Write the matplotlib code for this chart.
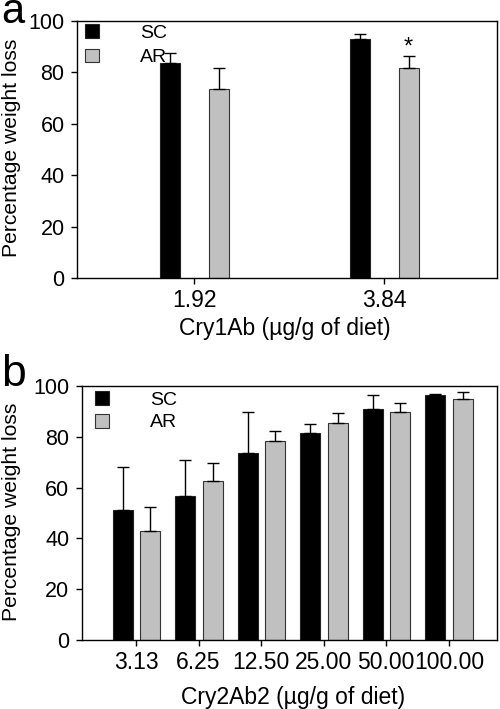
import matplotlib as mpl
mpl.use('Agg')
import matplotlib.pyplot as plt
import numpy as np

plt.rcParams['font.family'] = ['Liberation Sans', 'DejaVu Sans']

# panel a: Cry1Ab
a_doses = ["1.92", "3.84"]
a_sc = [83.5, 93.1]
a_sc_err = [3.9, 2.0]
a_ar = [73.6, 81.8]
a_ar_err = [8.1, 4.7]

# panel b: Cry2Ab2
b_doses = ["3.13", "6.25", "12.50", "25.00", "50.00", "100.00"]
b_sc = [51.0, 56.6, 73.6, 81.5, 90.9, 96.3]
b_sc_err = [17.0, 14.3, 16.3, 3.4, 5.4, 0.6]
b_ar = [42.9, 62.7, 78.2, 85.6, 89.9, 94.8]
b_ar_err = [9.3, 6.9, 4.0, 3.6, 3.5, 2.7]

black = '#000000'
gray = '#c0c0c0'

fig = plt.figure(figsize=(5, 7.09), dpi=100)
axa = fig.add_axes([0.154, 0.6079, 0.840, 0.3625])
axb = fig.add_axes([0.164, 0.0973, 0.830, 0.3583])


def draw(ax, doses, sc, sc_err, ar, ar_err, w, off_sc, off_ar, xlim):
    x = np.arange(len(doses))
    ekw = dict(ecolor='black', elinewidth=1, capsize=4, capthick=1)
    ax.bar(x + off_sc, sc, w, color=black, edgecolor='#222222', linewidth=0.8,
           yerr=[np.zeros(len(sc)), sc_err], error_kw=ekw, label='SC')
    ax.bar(x + off_ar, ar, w, color=gray, edgecolor='#333333', linewidth=0.8,
           yerr=[np.zeros(len(ar)), ar_err], error_kw=ekw, label='AR')
    ax.set_xlim(*xlim)
    ax.set_ylim(0, 100)
    ax.set_yticks(range(0, 101, 20))
    ax.set_xticks(x)
    ax.set_xticklabels(doses)
    ax.tick_params(axis='x', direction='out', length=4, width=1, labelsize=16.5, pad=4)
    ax.tick_params(axis='y', direction='out', length=4, width=1, labelsize=15.5, pad=5)
    for s in ax.spines.values():
        s.set_linewidth(1)
    return x


xa = draw(axa, a_doses, a_sc, a_sc_err, a_ar, a_ar_err, 0.105, -0.126, 0.13, (-0.616, 1.595))
xb = draw(axb, b_doses, b_sc, b_sc_err, b_ar, b_ar_err, 0.32, -0.215, 0.225, (-0.863, 5.77))

# significance mark
axa.text(xa[1] + 0.13, a_ar[1] + a_ar_err[1] - 1.0, '*', ha='center', va='bottom', fontsize=17)

fig.text(0.004, 1 - 148 / 709, 'Percentage weight loss', rotation=90,
         ha='left', va='center', fontsize=15.2)
fig.text(0.004, 1 - 512 / 709, 'Percentage weight loss', rotation=90,
         ha='left', va='center', fontsize=15.2)
axa.set_xlabel('Cry1Ab (µg/g of diet)', fontsize=16.5)
axb.set_xlabel('Cry2Ab2 (µg/g of diet)', fontsize=16.5)
axa.xaxis.set_label_coords(0.495, -0.153)
axb.xaxis.set_label_coords(0.509, -0.182)

for ax, anchor, sp in ((axa, (0.019, 0.988), 0.35), (axb, (0.031, 0.980), 0.25)):
    ax.legend(loc='upper left', bbox_to_anchor=anchor, frameon=False, fontsize=14,
              handlelength=0.72, handleheight=0.72, handletextpad=2.1, labelspacing=sp,
              borderaxespad=0, borderpad=0)

fig.text(0.002, 1 - 23 / 709, 'a', fontsize=30, va='baseline', ha='left')
fig.text(0.002, 0.456, 'b', fontsize=32, va='baseline', ha='left')

plt.savefig('out.png', dpi=100)
